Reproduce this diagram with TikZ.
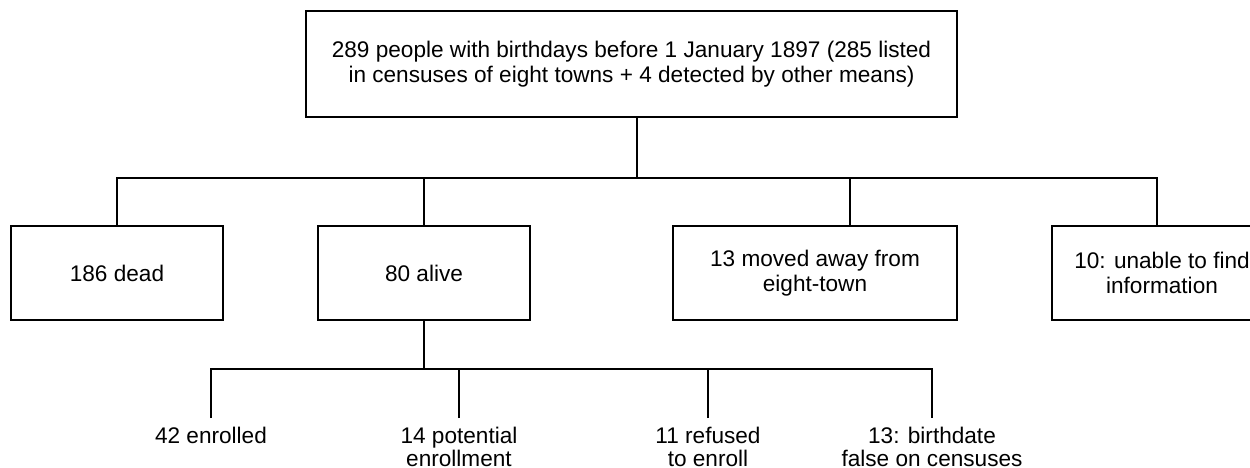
\documentclass[tikz,border=0pt]{standalone}
\usepackage{fontspec}
\setmainfont{Liberation Sans}
\newcommand\myfs{\fontsize{11.3}{12.5}\selectfont}
\newcommand\mylabfs{\fontsize{11.3}{11.6}\selectfont}
\begin{document}
\begin{tikzpicture}[x=0.5pt,y=-0.5pt, line width=1pt,
  box/.style={draw, rectangle, align=center, inner sep=0pt, font=\myfs, minimum height=47pt},
  lab/.style={align=center, inner sep=4pt, anchor=north, font=\mylabfs}]
\useasboundingbox (0,0) rectangle (1250,467);
\clip (0,0) rectangle (1250,467);
\node[box, minimum width=325.5pt, minimum height=53pt] (top) at (631.5,64)
  {289 people with birthdays before 1 January 1897 (285 listed\\in censuses of eight towns + 4 detected by other means)};
\node[box, minimum width=106pt] (dead) at (117,273) {186 dead};
\node[box, minimum width=106pt] (alive) at (424,273) {80 alive};
\node[box, minimum width=142pt] (moved) at (815,273) {13 moved away from\\eight-town};
\node[box, minimum width=110pt] (unable) at (1162,273) {10: unable to find\\information};
\coordinate (tj) at (637,178);
\coordinate (mj) at (850,178);
\coordinate (uj) at (1157,178);
\draw (top.south -| tj) -- (tj);
\draw (dead.north) |- (uj) -- (uj |- unable.north);
\draw (alive.north) -- (alive.north |- tj);
\draw (mj) -- (mj |- moved.north);
\node[lab] (enr) at (211,418) {42 enrolled};
\node[lab] (pot) at (459,418) {14 potential\\enrollment};
\node[lab] (ref) at (708,418) {11 refused\\to enroll};
\node[lab] (bd) at (932,418) {13: birthdate\\false on censuses};
\coordinate (aj) at (424,369);
\draw (alive.south) -- (aj);
\draw (enr.north) |- (aj) -| (bd.north);
\draw (pot.north) -- (pot.north |- aj);
\draw (ref.north) -- (ref.north |- aj);
\end{tikzpicture}
\end{document}
